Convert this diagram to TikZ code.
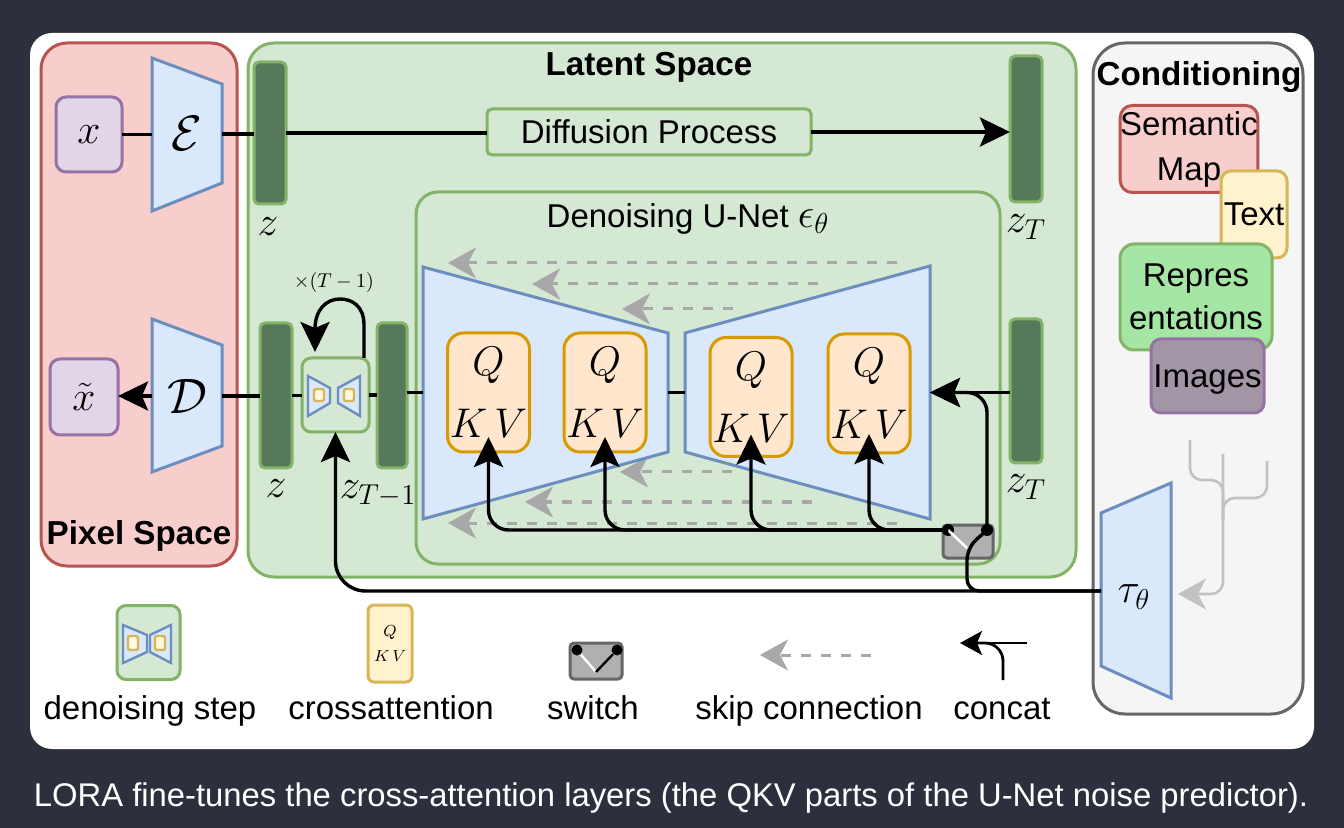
\documentclass[tikz,border=0pt]{standalone}
\usepackage{fontspec}
\setmainfont{Liberation Sans}
\usetikzlibrary{arrows.meta}
\definecolor{bgdark}{HTML}{2C303C}
\definecolor{redfill}{HTML}{F8CECC}
\definecolor{redline}{HTML}{B85450}
\definecolor{greenfill}{HTML}{D5E8D4}
\definecolor{greenline}{HTML}{82B366}
\definecolor{greyfill}{HTML}{F5F5F5}
\definecolor{greyline}{HTML}{666666}
\definecolor{bluefill}{HTML}{DAE8FC}
\definecolor{blueline}{HTML}{6C8EBF}
\definecolor{purplefill}{HTML}{E1D5E7}
\definecolor{purpleline}{HTML}{9673A6}
\definecolor{barfill}{HTML}{56795A}
\definecolor{orangefill}{HTML}{FFE6CC}
\definecolor{orangeline}{HTML}{D79B00}
\definecolor{yellowfill}{HTML}{FFF2CC}
\definecolor{yellowline}{HTML}{D6B656}
\definecolor{reprfill}{HTML}{A6E6A4}
\definecolor{imgfill}{HTML}{A195A6}
\definecolor{skipgrey}{HTML}{A8A8A8}
\definecolor{treegrey}{HTML}{C2C2C2}
\definecolor{switchfill}{HTML}{B0B0B0}

\begin{document}
\begin{tikzpicture}[x=0.5pt,y=-0.5pt]
\tikzstyle{panel} = [rectangle, inner sep=0pt, outer sep=0pt, line width=1.5pt]
\tikzstyle{lab} = [inner sep=0pt, align=center, font=\fontsize{16.5}{21.5}\selectfont]
\tikzstyle{title} = [inner sep=0pt, font=\fontsize{16.6}{20}\selectfont\bfseries]
\tikzstyle{mlab} = [inner sep=0pt, font=\fontsize{20}{24}\selectfont]
\tikzstyle{callab} = [inner sep=0pt, outer sep=0pt, font=\fontsize{26}{30}\selectfont]
\tikzstyle{latent} = [panel, draw=greenline, fill=barfill, rounded corners=2.5pt, minimum width=16pt]
\tikzstyle{attn} = [panel, draw=orangeline, fill=orangefill, rounded corners=8pt, minimum width=41pt, minimum height=59.5pt, align=center, font=\fontsize{20}{31}\selectfont]
\tikzstyle{trap} = [draw=blueline, fill=bluefill, line width=1.5pt]
\tikzstyle{smalltrap} = [draw=blueline, fill=bluefill, line width=1.2pt]
\tikzstyle{smallq} = [panel, draw=yellowline, fill=white!40!yellowfill, line width=1.2pt, rounded corners=1pt]
\tikzstyle{line} = [line width=1.7pt]
\tikzstyle{arrow} = [line width=1.7pt, -{Stealth[length=15pt,width=14.5pt,inset=3pt]}]
\tikzstyle{skip} = [skipgrey, line width=1.5pt, dash pattern=on 5pt off 5pt, -{Stealth[length=14pt,width=15.5pt,inset=4pt]}]
\tikzstyle{tree} = [treegrey, line width=1.3pt, rounded corners=6pt]

% background and card
\fill [bgdark] (0,0) rectangle (1344,828);
\fill [white, rounded corners=11pt] (30,33) rectangle (1314,749);

% the three spaces
\node (pixel) [panel, draw=redline, fill=redfill, rounded corners=13pt, minimum width=98pt, minimum height=261.5pt] at (139,304.5) {};
\node (space) [panel, draw=greenline, fill=greenfill, rounded corners=13pt, minimum width=414pt, minimum height=267pt] at (662,310) {};
\node (cond) [panel, draw=greyline, fill=greyfill, rounded corners=16pt, minimum width=105pt, minimum height=335.5pt] at (1198,378.5) {};
\node (pixeltitle) [title] at (139,536) {Pixel Space};
\node (spacetitle) [title] at (649,67) {Latent Space};
\node (condtitle) [title] at (1199,77) {Conditioning};
\node (unetbox) [panel, draw=greenline, fill=greenfill, rounded corners=11pt, minimum width=292pt, minimum height=186pt] at (708,378) {};
\node (unettitle) [lab] at (688,219) {Denoising U-Net {\fontsize{20}{24}\selectfont$\epsilon_\theta$}};

% encoder row
\node (x) [panel, draw=purpleline, fill=purplefill, rounded corners=5pt, minimum width=33pt, minimum height=37.5pt, mlab] at (89,134.5) {$x$};
\draw [trap] (152,58) -- (222,84) -- (222,183) -- (152,211) -- cycle;
\node (enc) [callab, minimum width=35pt] at (187,134) {$\mathcal{E}$};
\node (ztop) [latent, minimum height=71pt] at (270,133) {};
\node (ztopt) [latent, minimum height=73pt] at (1026,129) {};
\node (ztoplab) [mlab] at (268,227) {$z$};
\node (ztoptlab) [mlab] at (1026,227) {$z_T$};
\node (diff) [panel, draw=greenline, fill=greenfill, rounded corners=2.5pt, minimum width=162pt, minimum height=23pt, lab] at (649,132) {Diffusion Process};
\draw [line] (x.east) -- (x.east -| enc.west);
\draw [line] (enc.east) -- (enc.east -| ztop.west);
\draw [line] (ztop.east) -- (ztop.east -| diff.west);
\draw [arrow] (diff.east) -- (diff.east -| ztopt.west);

% skip connections, behind the U-Net
\coordinate (skaa) at (897,263);
\coordinate (skab) at (448,263);
\coordinate (skba) at (818,284);
\coordinate (skbb) at (532,284);
\coordinate (skca) at (733,309);
\coordinate (skcb) at (622,309);
\coordinate (skda) at (732,472);
\coordinate (skdb) at (620,472);
\coordinate (skea) at (812,502);
\coordinate (skeb) at (525,502);
\coordinate (skfa) at (897,523);
\coordinate (skfb) at (448,523);
\draw [skip] (skaa) -- (skab);
\draw [skip] (skba) -- (skbb);
\draw [skip] (skca) -- (skcb);
\draw [skip] (skda) -- (skdb);
\draw [skip] (skea) -- (skeb);
\draw [skip] (skfa) -- (skfb);

% U-Net
\draw [trap] (423,267) -- (668,333) -- (668,452) -- (423,519) -- cycle;
\draw [trap] (685,333) -- (930,266) -- (930,519) -- (685,452) -- cycle;
\node (unetl) [inner sep=0pt, outer sep=0pt, minimum width=122.5pt] at (545.5,392.5) {};
\node (unetr) [inner sep=0pt, outer sep=0pt, minimum width=122.5pt] at (807.5,392.5) {};
\node (qkva) [attn] at (488.5,392.5) {$Q$\\$K\,V$};
\node (qkvb) [attn] at (605,392.5) {$Q$\\$K\,V$};
\node (qkvc) [attn] at (751,397) {$Q$\\$K\,V$};
\node (qkvd) [attn] at (869,393.5) {$Q$\\$K\,V$};
\draw [line] (unetl.east) -- (unetr.west);

% decoder row
\draw [trap] (152,319) -- (222,345) -- (222,446) -- (152,472) -- cycle;
\node (dec) [callab, minimum width=35pt] at (187,396) {$\mathcal{D}$};
\node (xt) [panel, draw=purpleline, fill=purplefill, rounded corners=5pt, minimum width=34pt, minimum height=38pt, mlab] at (84,397) {$\tilde{x}$};
\node (zlow) [latent, minimum height=72.5pt] at (276,395.5) {};
\node (zprev) [latent, minimum width=15pt, minimum height=72.5pt] at (392,395.5) {};
\node (zlowt) [latent, minimum height=72pt] at (1026,391) {};
\node (zlowlab) [mlab] at (276,489) {$z$};
\node (zprevlab) [mlab] at (378,494) {$z_{T-1}$};
\node (zlowtlab) [mlab] at (1026,487) {$z_T$};
\node (step) [panel, draw=greenline, fill=greenfill, rounded corners=4.5pt, minimum width=33.5pt, minimum height=37pt] at (335.5,395) {};
\draw [smalltrap] (308,376) -- (330,388) -- (330,403) -- (308,416) -- cycle;
\draw [smalltrap] (338,388) -- (360,376) -- (360,416) -- (338,403) -- cycle;
\node (stepa) [smallq, minimum width=5pt, minimum height=6pt] at (319,395) {};
\node (stepb) [smallq, minimum width=5pt, minimum height=6pt] at (349,395) {};
\node (times) [inner sep=0pt, font=\fontsize{10}{12}\selectfont] at (334,283) {$\times(T-1)$};
\coordinate (loopa) at (364,358);
\coordinate (loopb) at (340,299);
\coordinate (loopc) at (315,352);
\draw [arrow] (loopa) -- (364,325) .. controls (364,306) and (352,299) .. (loopb) .. controls (326,299) and (315,310) .. (loopc);
\draw [arrow] (dec.west) -- (dec.west -| xt.east);
\draw [line] (dec.east) -- (dec.east -| zlow.west);
\draw [line] (zlow.east) -- (zlow.east -| step.west);
\draw [line] (step.east) -- (step.east -| zprev.west);
\draw [line] (zprev.east |- unetl.west) -- (unetl.west);

% switch and conditioning lines
\node (switch) [panel, draw=greyline, fill=switchfill, rounded corners=2pt, minimum width=25pt, minimum height=16.5pt] at (968,541.5) {};
\node (swa) [circle, fill=black, inner sep=0pt, minimum size=6pt] at (948,530) {};
\node (swb) [circle, fill=black, inner sep=0pt, minimum size=6pt] at (987,530) {};
\coordinate (swm) at (967,548);
\draw [white, line width=1.3pt] (swa.center) -- (swm);
\draw [arrow, rounded corners=10pt] (swa.center) -| ([yshift=7.5pt]qkva.south);
\draw [arrow, rounded corners=10pt] (swa.center) -| ([yshift=7.5pt]qkvb.south);
\draw [arrow, rounded corners=10pt] (swa.center) -| ([yshift=11pt]qkvc.south);
\draw [arrow, rounded corners=10pt] (swa.center) -| ([yshift=9.5pt]qkvd.south);
\draw [arrow] (zlowt.west |- unetr.east) -- (unetr.east);
\draw [arrow, rounded corners=10pt] (swb.center) |- (unetr.east);

% conditioning panel
\node (sem) [panel, draw=redline, fill=redfill, rounded corners=6pt, minimum width=68pt, minimum height=43.5pt, lab] at (1189,149) {Semantic\\[1pt]Map};
\node (txt) [panel, draw=yellowline, fill=yellowfill, rounded corners=5pt, minimum width=33pt, minimum height=43.5pt, lab] at (1254,214.5) {Text};
\node (repr) [panel, draw=greenline, fill=reprfill, rounded corners=7pt, minimum width=76pt, minimum height=53pt, lab] at (1196,297) {Repres\\entations};
\node (img) [panel, draw=purpleline, fill=imgfill, rounded corners=5pt, minimum width=56.5pt, minimum height=37pt, lab, text depth=0pt] at (1207.5,376) {Images};
\draw [trap] (1101,513) -- (1171,483) -- (1171,698) -- (1101,666) -- cycle;
\node (tau) [mlab, outer sep=0pt, minimum width=35pt] at (1136,591) {};
\node (taulab) [mlab] at (1134,597) {$\tau_\theta$};
\draw [arrow, rounded corners=15pt] (tau.west) -| (step.south);
\draw [line, rounded corners=6pt] (swb.center) -- (swm) |- (tau.west);

% tree into tau
\coordinate (treea) at (1190,440);
\coordinate (treeb) at (1223,454);
\coordinate (treec) at (1267,461);
\coordinate (treej) at (1223,520);
\draw [tree] (treea) |- (1223,480) -- (treej);
\draw [tree] (treec) |- (1223,498) -- (treej);
\draw [tree, -{Stealth[length=14pt,width=15.5pt,inset=4pt]}] (treeb) |- ([xshift=3.5pt,yshift=-1.5pt]tau.east);

% legend
\node (legstep) [panel, draw=greenline, fill=greenfill, rounded corners=4.5pt, minimum width=31.5pt, minimum height=37pt] at (148.5,642.5) {};
\draw [smalltrap] (123,625) -- (147,635) -- (147,652) -- (123,663) -- cycle;
\draw [smalltrap] (150,635) -- (171,625) -- (171,663) -- (150,652) -- cycle;
\node (legstepa) [smallq, minimum width=5pt, minimum height=7pt] at (133,643) {};
\node (legstepb) [smallq, minimum width=5pt, minimum height=7pt] at (160,643) {};
\node (legattn) [panel, draw=yellowline, fill=yellowfill, rounded corners=3pt, minimum width=22pt, minimum height=38.5pt, align=center, font=\fontsize{8}{12.5}\selectfont] at (390,643.5) {$Q$\\$K\,V$};
\node (legsw) [panel, draw=greyline, fill=switchfill, rounded corners=2pt, minimum width=26pt, minimum height=18pt] at (596,661) {};
\node (legswa) [circle, fill=black, inner sep=0pt, minimum size=5.5pt] at (577,650) {};
\node (legswb) [circle, fill=black, inner sep=0pt, minimum size=5.5pt] at (617,650) {};
\coordinate (legswm) at (596,672);
\draw [white, line width=1.2pt] (legswa) -- (legswm);
\draw [line width=1.2pt] (legswb) -- (legswm);
\coordinate (legska) at (871,655);
\coordinate (legskb) at (760,655);
\draw [skip] (legska) -- (legskb);
\coordinate (legcona) at (1027,643);
\coordinate (legconb) at (960,643);
\coordinate (legconc) at (1003,680);
\draw [line width=1.4pt, -{Stealth[length=11pt,width=12pt,inset=2.5pt]}] (legcona) -- (legconb);
\draw [line width=1.4pt, rounded corners=9pt] (legconc) |- (975,643);
\node (legsteplab) [lab, anchor=base] at (150,719) {denoising step};
\node (legattnlab) [lab, anchor=base] at (391,719) {crossattention};
\node (legswlab) [lab, anchor=base] at (593,719) {switch};
\node (legsklab) [lab, anchor=base] at (809,719) {skip connection};
\node (legconlab) [lab, anchor=base] at (1002,719) {concat};

% caption
\node (caption) [inner sep=0pt, text=white, font=\fontsize{16.4}{20}\selectfont] at (671,798) {LORA fine-tunes the cross-attention layers (the QKV parts of the U-Net noise predictor).};
\end{tikzpicture}
\end{document}
